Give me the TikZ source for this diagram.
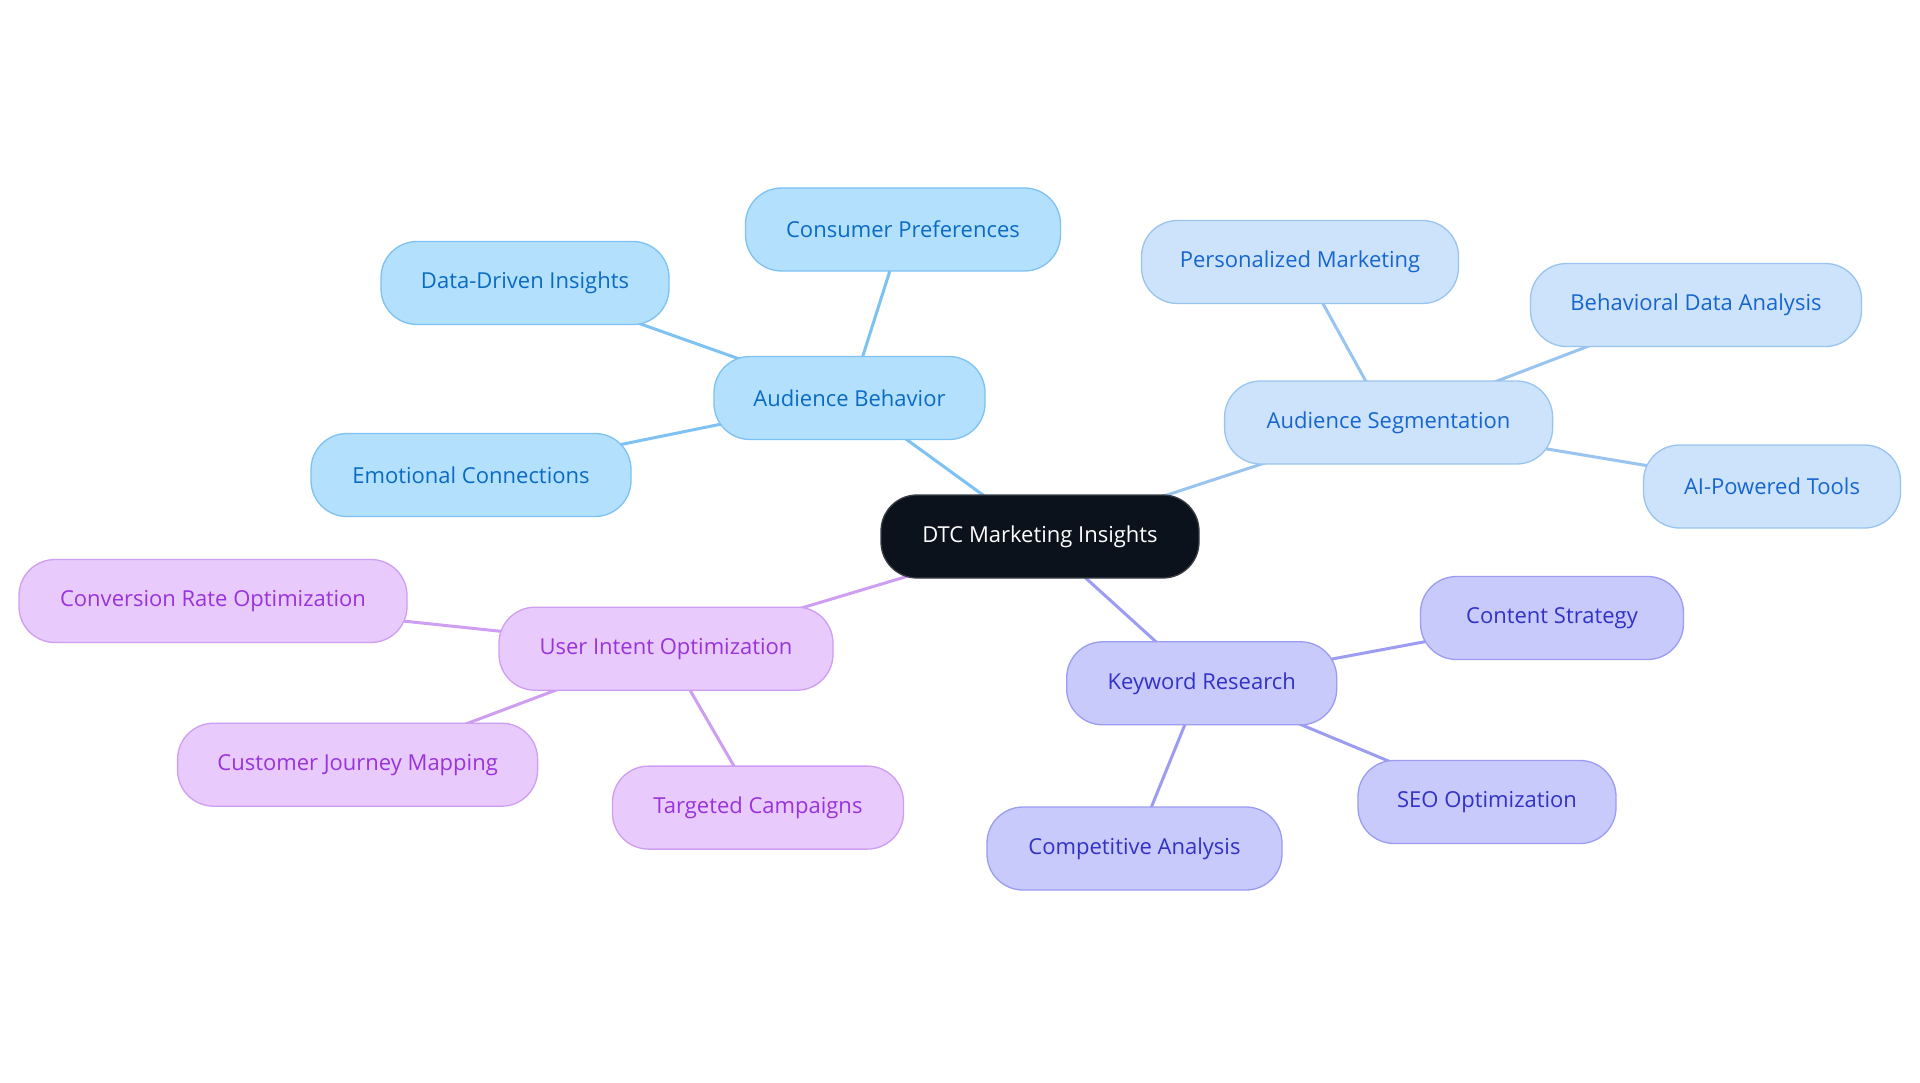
\documentclass[tikz,border=0pt]{standalone}
\usepackage{fontspec}
\setmainfont{Open Sans}
\usetikzlibrary{backgrounds}
\definecolor{abFill}{HTML}{B3E0FD}
\definecolor{abDraw}{HTML}{7DC2F2}
\definecolor{abText}{HTML}{0B6BC4}
\definecolor{asFill}{HTML}{CDE3FB}
\definecolor{asDraw}{HTML}{99C4F0}
\definecolor{asText}{HTML}{1766CF}
\definecolor{krFill}{HTML}{C8CAFC}
\definecolor{krDraw}{HTML}{9C9CF2}
\definecolor{krText}{HTML}{3232C4}
\definecolor{uiFill}{HTML}{E8CAFC}
\definecolor{uiDraw}{HTML}{CE9EF2}
\definecolor{uiText}{HTML}{9933DA}
\definecolor{ctFill}{HTML}{0C121C}
\definecolor{ctDraw}{HTML}{3A3F46}
\begin{document}
\begin{tikzpicture}[x=1pt,y=-1pt,
  pill/.style={rectangle, rounded corners=36pt, minimum height=83pt, inner sep=0pt, line width=1.3pt, font=\fontsize{22}{26}\selectfont},
  ab/.style={pill, fill=abFill, draw=abDraw, text=abText},
  as/.style={pill, fill=asFill, draw=asDraw, text=asText},
  kr/.style={pill, fill=krFill, draw=krDraw, text=krText},
  ui/.style={pill, fill=uiFill, draw=uiDraw, text=uiText},
  ct/.style={pill, fill=ctFill, draw=ctDraw, text=white},
  abl/.style={draw=abDraw, line width=3pt},
  asl/.style={draw=asDraw, line width=3pt},
  krl/.style={draw=krDraw, line width=3pt},
  uil/.style={draw=uiDraw, line width=3pt}]
\useasboundingbox (0,0) rectangle (1920,1083);
% central
\node[ct, minimum width=318pt] (c) at (1040,536.5) {DTC Marketing Insights};
% Audience Behavior
\node[ab, minimum width=271pt] (ab) at (849.5,398) {Audience Behavior};
\node[ab, minimum width=315pt] (cp) at (903,229.5) {Consumer Preferences};
\node[ab, minimum width=288pt] (ddi) at (525,283) {Data-Driven Insights};
\node[ab, minimum width=320pt] (ec) at (471,475) {Emotional Connections};
% Audience Segmentation
\node[as, minimum width=328pt] (as) at (1388.6,422.5) {Audience Segmentation};
\node[as, minimum width=317pt] (pm) at (1300,262) {Personalized Marketing};
\node[as, minimum width=331pt] (bda) at (1696,305) {Behavioral Data Analysis};
\node[as, minimum width=257pt] (ai) at (1772,486.5) {AI-Powered Tools};
% Keyword Research
\node[kr, minimum width=270pt] (kr) at (1201.7,683.3) {Keyword Research};
\node[kr, minimum width=263pt] (cs) at (1552,618) {Content Strategy};
\node[kr, minimum width=258pt] (seo) at (1487,802) {SEO Optimization};
\node[kr, minimum width=295pt] (ca) at (1134.5,848.5) {Competitive Analysis};
% User Intent Optimization
\node[ui, minimum width=334pt] (uio) at (666,648.7) {User Intent Optimization};
\node[ui, minimum width=388pt] (cro) at (213,601) {Conversion Rate Optimization};
\node[ui, minimum width=360pt] (cjm) at (357.6,764.7) {Customer Journey Mapping};
\node[ui, minimum width=291pt] (tc) at (758,807.6) {Targeted Campaigns};
\begin{scope}[on background layer]
\fill[white] (0,0) rectangle (1920,1083);
\draw[abl] (c.center) -- (ab.center);
\draw[abl] (ab.center) -- (cp.center);
\draw[abl] (ab.center) -- (ddi.center);
\draw[abl] (ab.center) -- (ec.center);
\draw[asl] (c.center) -- (as.center);
\draw[asl] (as.center) -- (pm.center);
\draw[asl] (as.center) -- (bda.center);
\draw[asl] (as.center) -- (ai.center);
\draw[krl] (c.center) -- (kr.center);
\draw[krl] (kr.center) -- (cs.center);
\draw[krl] (kr.center) -- (seo.center);
\draw[krl] (kr.center) -- (ca.center);
\draw[uil] (c.center) -- (uio.center);
\draw[uil] (uio.center) -- (cro.center);
\draw[uil] (uio.center) -- (cjm.center);
\draw[uil] (uio.center) -- (tc.center);
\end{scope}
\end{tikzpicture}
\end{document}
